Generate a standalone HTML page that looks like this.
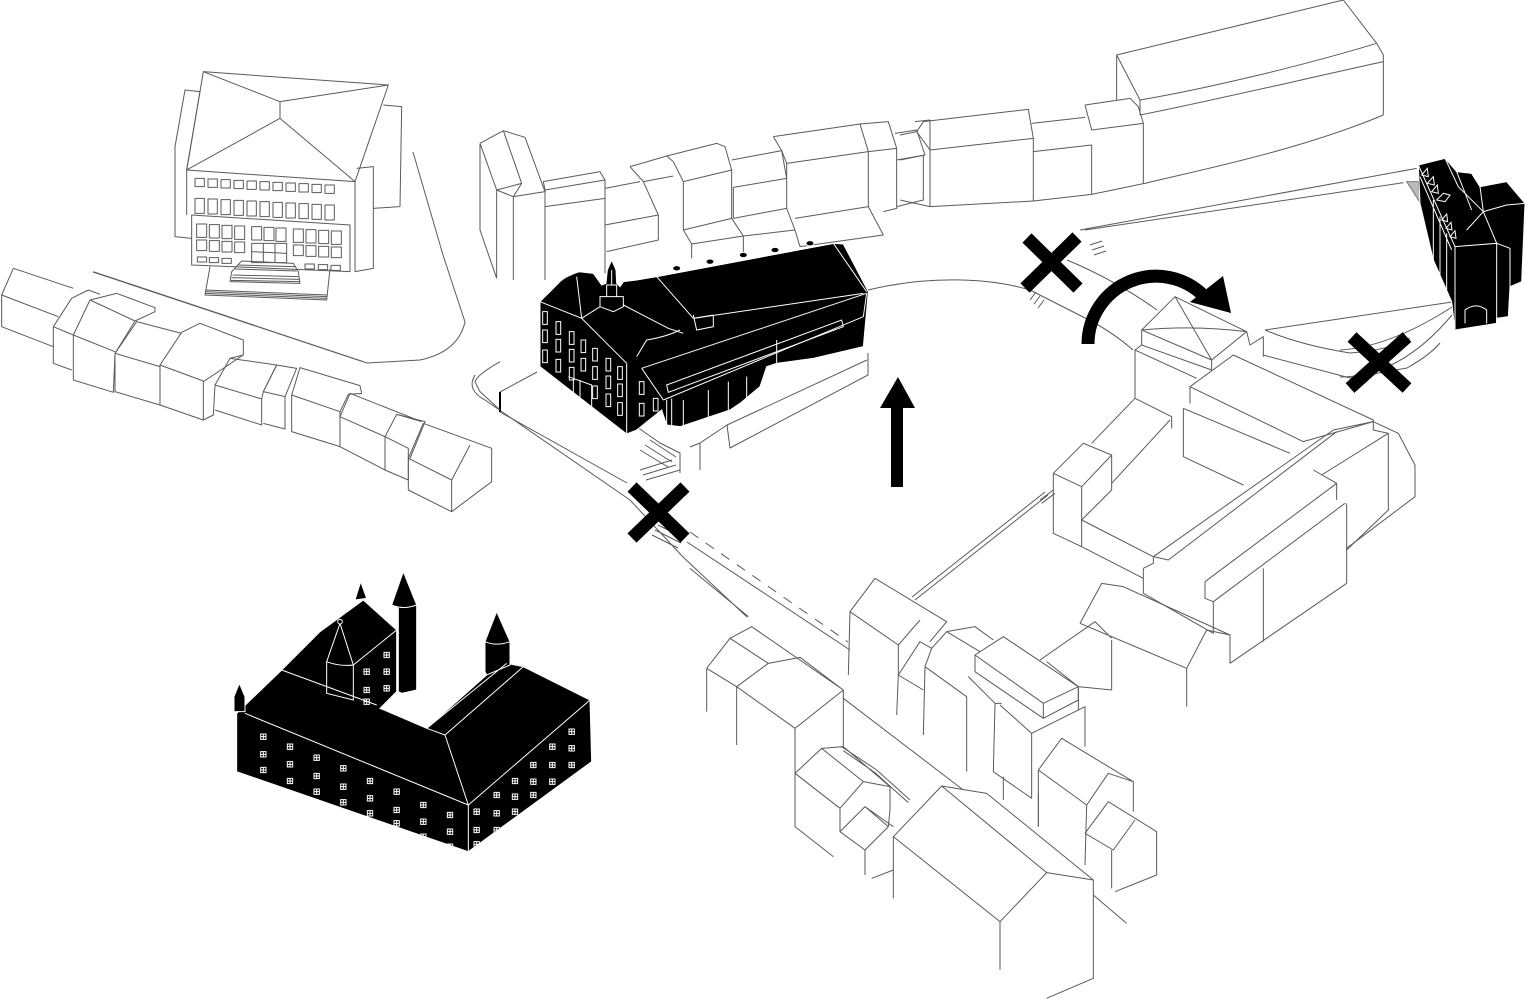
<!DOCTYPE html>
<html><head><meta charset="utf-8"><style>
html,body{margin:0;padding:0;background:#fff;}
svg{display:block;}
svg *{vector-effect:non-scaling-stroke;}
.l{fill:none;stroke:#5a5a5a;stroke-width:1;stroke-linejoin:round;}
.k{fill:#000;stroke:#fff;stroke-width:1;}
.w{fill:none;stroke:#fff;stroke-width:1;}
</style></head><body>
<svg width="1527" height="1000" viewBox="0 0 1527 1000" xmlns="http://www.w3.org/2000/svg">
<defs>
<g id="cw"><rect x="-8" y="-8" width="16" height="16" fill="none" stroke="#fff" stroke-width="1"/><path d="M0,-8V8M-8,0H8" stroke="#fff" stroke-width="1"/></g>
</defs>
<rect width="1527" height="1000" fill="#fff"/>

<!-- roads main coords -->
<g class="l">
<path d="M413,152 L443,255 L465,322 Q458,352 420,360 L367,363 L93,272"/>
<path d="M475,375 Q466,390 485,400 L630,500 L683,557 L747,617"/>
<path d="M500,392 L537,372"/>
<path d="M500,392 L500,412" stroke="#000" stroke-width="2"/>
<path d="M500,412 L627,483"/>
<path d="M687,542 L850,650"/>
<path d="M690,532 L848,642" stroke-dasharray="10,9"/>
<path d="M637,427 L660,443 L680,453 L680,473 M690,447 L700,443 L727,425 L730,448 L868,375 L868,353 M700,443 L700,470 M727,425 L867,360"/>
<path d="M640,450 L668,467 M645,445 L672,462 M650,440 L676,457"/>
<path d="M640,470 L672,460 M643,475 L676,465 M646,480 L680,470"/>
<path d="M652,535 L678,548 M655,530 L681,543 M658,525 L684,538"/>
<path d="M868,290 C930,275 990,278 1030,290 L1083,317 Q1110,330 1133,350"/>
<path d="M1067,260 Q1115,280 1157,310"/>
<path d="M1090,245 L1102,241 M1092,250 L1104,246 M1094,255 L1106,251"/>
<path d="M1030,300 L1036,292 M1034,304 L1040,296 M1038,308 L1044,300"/>
<path d="M912,597 L1045,492 M915,600 L1048,495"/>
<path d="M1265,330 L1452,302"/>
<path d="M1265,330 Q1300,345 1350,353 Q1390,350 1410,338"/>
<path d="M1263,355 L1350,378 L1407,368 Q1430,355 1440,343"/>
<path d="M1340,350 Q1390,347 1452,307 M1340,377 Q1400,377 1452,315"/>
</g>

<!-- left row of houses (zoom 9) -->
<g class="l" transform="translate(0,255) scale(0.33333)">
<path d="M40,40 L220,100 M40,40 L5,120 L5,215 L160,275 M5,120 L175,185"/>
<path d="M160,215 L215,130 L265,105 L300,118 M160,215 L160,325 L215,345 M160,215 L220,240"/>
<path d="M220,240 L270,135 L350,115 L465,158 L465,170 L405,198 L345,295 M220,240 L345,290 M220,240 L220,375 L340,412 L345,295 M270,135 L405,198"/>
<path d="M345,295 L410,200 L545,235 M345,295 L480,335 M345,295 L345,412 M480,335 L480,450 M345,410 L480,450"/>
<path d="M480,330 L545,232 L600,205 L730,255 L730,300 L610,380 M480,330 L610,378 M480,330 L480,450 L610,495 L610,378"/>
<path d="M610,495 L640,480 L645,390 L690,310 L730,300 M645,390 L785,432 L785,510 L645,465 M690,310 L830,330 L790,410 L785,432"/>
<path d="M790,410 L830,330 L890,340 L855,425 L855,522 L790,505 M855,425 L790,410"/>
<path d="M875,420 L900,338 L1080,392 L1085,415 L1045,418 L1020,470 M875,420 L1020,470 L1020,575 L875,530 Z"/>
<path d="M1020,485 L1050,415 L1265,500 M1020,485 L1155,545 L1155,645 L1020,575 M1155,545 L1190,478 L1265,500"/>
<path d="M1155,545 L1225,580 L1225,675 L1155,645 M1190,478 L1275,500 L1230,610"/>
<path d="M1225,610 L1270,505 L1475,580 L1475,680 L1355,770 L1225,705 Z M1225,610 L1355,675 L1410,570 M1355,675 L1355,770"/>
<path d="M280,50 L1090,320"/>
<path d="M1500,320 Q1430,360 1425,380 L1440,410 L1500,465"/>
</g>

<!-- top-left civic building (zoom 4) -->
<g class="l" transform="translate(170,65) scale(0.33333)">
<path d="M100,20 L655,60 L555,350 L50,315 Z M100,20 L330,110 L655,60 M330,110 L330,160 M330,160 L50,315 M330,160 L555,350"/>
<path d="M50,315 L50,450 M555,350 L555,620"/>
<path d="M15,245 L45,75 L90,80 L50,315 M15,245 L15,515 L65,520"/>
<path d="M640,120 L695,125 L690,425 L610,430 M560,310 L610,305 L610,610 L555,620"/>
<path d="M65,450 L540,480 L540,620 L65,600 Z"/>
<g>
<rect x="75" y="340" width="28" height="25"/><rect x="114" y="342" width="28" height="25"/><rect x="153" y="344" width="28" height="25"/><rect x="192" y="346" width="28" height="25"/><rect x="231" y="348" width="28" height="25"/><rect x="270" y="350" width="28" height="25"/><rect x="309" y="352" width="28" height="25"/><rect x="348" y="354" width="28" height="25"/><rect x="387" y="356" width="28" height="25"/><rect x="426" y="358" width="28" height="25"/><rect x="465" y="360" width="28" height="25"/>
<rect x="75" y="400" width="28" height="45"/><rect x="114" y="402" width="28" height="45"/><rect x="153" y="404" width="28" height="45"/><rect x="192" y="406" width="28" height="45"/><rect x="231" y="408" width="28" height="45"/><rect x="270" y="410" width="28" height="45"/><rect x="309" y="412" width="28" height="45"/><rect x="348" y="414" width="28" height="45"/><rect x="387" y="416" width="28" height="45"/><rect x="426" y="418" width="28" height="45"/><rect x="465" y="420" width="28" height="45"/>
<rect x="80" y="477" width="30" height="40"/><rect x="118" y="479" width="30" height="40"/><rect x="156" y="481" width="30" height="40"/><rect x="194" y="483" width="30" height="40"/><rect x="245" y="485" width="30" height="40"/><rect x="282" y="487" width="30" height="40"/><rect x="318" y="489" width="30" height="40"/><rect x="370" y="492" width="30" height="40"/><rect x="408" y="494" width="30" height="40"/><rect x="446" y="496" width="30" height="40"/><rect x="484" y="498" width="30" height="40"/>
<rect x="80" y="525" width="30" height="32"/><rect x="118" y="527" width="30" height="32"/><rect x="156" y="529" width="30" height="32"/><rect x="194" y="531" width="30" height="32"/><rect x="245" y="535" width="105" height="58"/><path d="M245,560 L350,565 M280,535 L280,593 M315,537 L315,593"/><rect x="370" y="540" width="30" height="32"/><rect x="408" y="542" width="30" height="32"/><rect x="446" y="544" width="30" height="32"/><rect x="484" y="546" width="30" height="32"/>
<rect x="82" y="576" width="28" height="15"/><rect x="118" y="578" width="28" height="15"/><rect x="156" y="580" width="28" height="15"/><rect x="405" y="597" width="28" height="15"/><rect x="445" y="599" width="28" height="15"/><rect x="483" y="601" width="28" height="15"/>
</g>
<path d="M120,605 L105,690 L470,705 L480,612"/>
<path d="M105,680 L470,695 M105,685 L470,700 M106,675 L472,690"/>
<path d="M215,588 L370,595 L385,620 L390,655 L180,650 L185,620 Z M188,630 L385,635 M185,638 L388,643 M183,646 L390,650 M195,612 L380,618 M205,600 L375,605"/>
</g>

<!-- top row buildings (zoom 6) -->
<g class="l" transform="translate(470,100) scale(0.33333)">
<path d="M30,130 L100,92 L165,112 L225,275 M30,130 L80,270 L130,290 L225,275 M100,92 L155,250 L130,290 M80,270 L155,250 M30,130 L30,390 L80,535 M80,270 L80,535 M130,290 L130,540"/>
<path d="M220,245 L390,215 L405,240 L225,270 Z M225,270 L225,320 L405,295 M225,320 L225,540 M405,240 L405,520"/>
<path d="M405,265 L510,245 M480,200 L520,245 L565,345 L565,420 L410,455 M405,375 L565,345 M480,200 L590,168 L610,185 M520,245 L610,228"/>
<path d="M590,168 L740,130 L765,140 L785,210 L640,245 L610,185 M640,245 L640,390 M785,210 L785,355 M640,390 L785,355 M640,390 L665,432 L820,408 L785,355 M665,432 L665,475 M820,408 L820,460"/>
<path d="M785,180 L935,152 L950,235 L790,262 M950,235 L950,325 L975,390 L820,408 M790,355 L950,325 M790,262 L790,355"/>
<path d="M910,110 L1170,72 L1195,155 L950,190 L935,152 M910,110 L935,152 M950,190 L950,235 M975,355 L1195,320 L1240,405 L990,440 L975,390 M1195,155 L1195,320"/>
<path d="M1170,72 L1255,65 L1280,145 L1195,155 M1280,145 L1280,325 L1240,335"/>
<path d="M1275,100 L1340,90 L1365,165 L1280,180 M1335,65 L1380,60 L1380,320 M1360,165 L1360,300 L1280,320"/>
</g>

<!-- top right row (zoom 10) -->
<g class="l" transform="translate(900,0) scale(0.33333)">
<path d="M0,405 L50,395 L70,365 L385,328 L400,415 L90,450 L50,395 M0,480 L75,465 M90,450 L90,620 M0,600 L90,620 L400,603 L575,583 L735,550 C900,510 1200,450 1450,345 M400,415 L400,603 M395,370 L555,352 M400,455 L575,435 L575,583"/>
<path d="M555,315 L690,295 L715,320 L730,370 L575,390 L555,315 M730,370 L730,550"/>
<path d="M650,300 L650,165 L1330,0 M1330,0 L1430,130 M650,165 L720,300 C900,270 1200,200 1430,130 L1450,165 L1450,345 M720,345 C900,310 1200,240 1450,185 M720,300 L720,345"/>
<path d="M540,690 L1550,505 M555,690 L1510,548"/>
</g>

<!-- right black building (zoom 3) -->
<g transform="translate(1340,150) scale(0.33333)">
<path d="M200,95 L235,95 L242,160 Z" fill="#bbb" stroke="#777"/>
<path class="k" d="M235,45 L315,25 L350,65 L395,70 L420,110 L500,95 L555,160 L545,395 L510,410 L505,500 L470,505 L470,520 L345,540 L335,455 L280,330 L240,160 Z"/>
<path class="w" d="M345,290 L470,280 L470,520 M345,290 L345,540 M380,240 L430,185 L470,280 M430,185 L355,110 L315,25 M430,185 L500,165 L555,160 M470,280 L510,295 L510,410 M375,520 L375,480 Q408,455 440,480 L440,520 M235,45 L345,290 M240,80 L335,300 M280,150 L280,330 M300,200 L300,380 M320,250 L320,420 M350,65 L395,180 M395,70 L420,110 L430,185"/>
<path class="w" d="M245,75 L262,55 L265,80 Z M262,100 L280,80 L283,105 Z M275,125 L292,105 L295,130 Z M290,150 L310,130 L330,135 L315,155 Z M305,210 L320,192 L323,215 Z M318,235 L333,217 L336,240 Z M330,260 L345,242 L348,265 Z"/>
</g>

<!-- center black building (zoom 1) -->
<g transform="translate(480,230) scale(0.33333)">
<path class="k" d="M180,215 L215,180 L250,145 L295,125 L340,130 L365,165 L378,160 L382,120 L395,90 L408,120 L410,160 L420,170 L430,155 L470,150 L530,140 L1060,40 L1090,42 L1165,185 L1150,350 L1000,385 L890,400 L860,410 L840,470 L780,520 L750,540 L600,590 L560,585 L545,540 L470,600 L440,612 L180,410 Z"/>
<path class="w" d="M440,400 L440,612 M180,215 L305,265 L440,400 M305,265 L360,230 M290,140 L305,265 M210,185 Q250,135 300,125 M360,200 L430,200 L430,230 L400,245 L360,230 Z M380,200 L380,165 L410,165 L410,200 M395,165 L395,120"/>
<path class="w" d="M430,225 L565,295 L610,310 M530,140 L640,265 M640,265 L700,255 M530,140 L1060,40 M1060,40 L1160,185"/>
<path class="w" d="M485,415 L1160,190 M485,415 L550,510 M550,510 L1150,260 M1150,260 L1160,190 M640,265 L1150,190"/>
<path class="w" d="M560,465 L1085,270 L1090,290 L565,487 Z"/>
<path class="w" d="M610,510 L610,590 M685,480 L685,565 M745,455 L745,545 M800,440 L800,520 M890,330 L890,400 M560,510 L560,610 M575,505 L575,615 M915,400 L915,430 M1000,390 L1000,410 M600,300 Q560,320 500,330 L470,380 M640,255 L650,300 L700,290 L700,255"/>
<g class="w">
<rect x="188" y="245" width="14" height="38"/><rect x="188" y="300" width="14" height="38"/><rect x="188" y="360" width="14" height="38"/>
<rect x="228" y="275" width="14" height="38"/><rect x="228" y="328" width="14" height="38"/><rect x="228" y="388" width="14" height="38"/>
<rect x="268" y="305" width="14" height="38"/><rect x="268" y="358" width="14" height="38"/><rect x="268" y="412" width="14" height="38"/>
<rect x="303" y="330" width="14" height="38"/><rect x="303" y="385" width="14" height="38"/>
<rect x="338" y="355" width="14" height="38"/><rect x="338" y="410" width="14" height="38"/><rect x="338" y="468" width="14" height="38"/>
<rect x="378" y="385" width="14" height="38"/><rect x="378" y="438" width="14" height="38"/><rect x="378" y="492" width="14" height="38"/>
<rect x="413" y="410" width="14" height="38"/><rect x="413" y="462" width="14" height="38"/><rect x="413" y="518" width="14" height="38"/>
<rect x="478" y="520" width="14" height="38"/><rect x="520" y="505" width="14" height="38"/><rect x="478" y="455" width="14" height="38"/>
<path d="M265,440 L335,465 L335,540 M280,445 L280,520 M300,450 L300,520"/>
</g>
<g class="k"><ellipse cx="590" cy="115" rx="12" ry="8"/><ellipse cx="690" cy="95" rx="12" ry="8"/><ellipse cx="790" cy="75" rx="12" ry="8"/><ellipse cx="885" cy="60" rx="12" ry="8"/><ellipse cx="990" cy="40" rx="12" ry="8"/></g>
</g>

<!-- right block (zoom 8) -->
<g class="l" transform="translate(1040,290) scale(0.33333)">
<path d="M305,120 L405,20 L620,125 L515,210 Z M305,120 Q460,105 620,125 M405,20 L515,210 M305,120 L305,165 L515,240 L515,210 M620,125 L630,165 L670,140 L670,200"/>
<path d="M285,180 L305,165 M285,180 L285,325 L395,380 L395,415 M285,180 L470,265"/>
<path d="M450,290 L580,195 L1000,390 M450,290 L450,340 M430,355 L430,500 L610,585 M430,355 L750,490 M450,290 L790,455 L1000,395"/>
<path d="M340,800 L880,420 L1000,395 M340,800 L385,810 L890,425 M495,875 L890,580 M495,875 L495,925 L520,935 L915,640 M820,540 L890,580 L890,630 M1000,390 L1000,420 L1045,430 L1045,660 L920,780"/>
<path d="M1000,395 L1075,430 L1125,525 L1125,620 L920,775 M845,555 L1045,430 M920,640 L920,880"/>
<path d="M40,550 L130,460 L215,495 L215,600 L125,690 L125,770 M40,550 L125,590 L215,495 M125,590 L125,690 M40,550 L40,730 L125,770"/>
<path d="M125,690 L340,800 M155,460 L285,325 M215,580 L390,390 M125,770 L310,865"/>
<path d="M310,835 L310,910 L520,1030 L520,935 M670,1055 L670,835 M570,1120 L920,880 M310,835 L340,820 L340,800"/>
<path d="M120,1000 L185,880 L250,890 L570,1035 L570,1120 M120,1000 L440,1135 L500,1020 L570,1035 M440,1135 L440,1250 M215,1050 L215,1200 M0,1110 L165,995 L215,1045 M20,1115 L115,1190 L115,1260 M115,1190 L215,1200"/>
<path d="M0,630 L40,600 M5,640 L45,610"/>
</g>

<!-- bottom-center houses (zoom 7) -->
<g class="l" transform="translate(690,560) scale(0.33333)">
<path d="M0,25 L175,170 M460,415 L820,690 M1210,1005 L1310,1090"/>
<path d="M480,155 L555,55 L770,185 L720,245 M480,155 L625,255 L690,180 M480,155 L475,345 M625,255 L625,345 L620,465"/>
<path d="M625,345 L690,245 L725,265 L705,320 L700,525 M625,345 L700,390 M725,265 L770,215 L855,200 L910,240 M705,320 L830,410 L830,635 M770,215 L870,275"/>
<path d="M855,285 L940,230 L1165,380 L1060,430 Z M855,285 L855,335 L1060,475 L1060,430 M1165,380 L1165,420 L1060,475"/>
<path d="M835,350 L915,430 L910,635 L1025,715 L1025,520 L1185,440 L1185,560 M915,430 L935,430 M1025,520 L930,435 M940,650 L940,720 M1045,700 L1045,800"/>
<path d="M1045,630 L1115,535 L1330,665 L1330,755 M1045,630 L1190,735 L1255,640 L1330,665 M1190,735 L1185,915 M1045,630 L1045,800"/>
<path d="M1185,820 L1255,725 L1400,815 L1400,945 L1275,995 M1185,820 L1270,870 L1335,780 M1265,870 L1265,985"/>
<path d="M50,325 L120,235 L185,200 L460,390 M50,325 L140,380 L235,310 L330,292 L460,390 L315,505 L140,380 M120,235 L235,310 M50,325 L50,455 M140,380 L140,555 M315,505 L315,800 L430,890 M460,390 L460,560"/>
<path d="M315,640 L395,565 L460,560 L600,680 L600,750 M315,640 L450,745 L520,665 L600,680 M395,565 L520,665 M450,745 L450,815 L525,870 L595,800 L600,750 M450,815 L525,740 L595,800 M525,870 L525,945 M525,740 L610,800 M455,560 L560,630 L660,720 M460,572 L555,638 L655,728"/>
<path d="M610,830 L755,678 L890,700 L1210,960 L1070,938 L930,1085 Z M610,830 L930,1085 M755,678 L1070,938 M610,830 L610,1015 M930,1085 L930,1230 M1210,960 L1210,1255 L1070,1315 M545,955 L610,930"/>
</g>

<!-- castle (zoom 2) -->
<g transform="translate(220,565) scale(0.33333)">
<path class="k" d="M50,445 L185,315 L300,200 L430,105 L530,195 L530,380 L480,430 L620,490 L800,330 L860,295 L910,305 L1110,405 L1115,590 L745,860 L50,620 Z"/>
<path class="k" d="M515,120 L550,20 L590,120 L590,375 L545,385 L535,380 L535,130 Z"/>
<path class="k" d="M405,105 L422,50 L440,100 Z"/>
<path class="k" d="M795,230 L830,140 L870,230 L870,300 L800,330 L795,320 Z"/>
<path class="k" d="M42,440 L42,395 L58,355 L75,395 L75,440 Z"/>
<path class="k" d="M320,290 L360,175 L400,300 L400,405 L320,385 Z"/>
<path class="w" d="M75,445 L745,720 M745,720 L745,860 M745,720 L1110,405 M675,510 L745,720 M675,510 L910,305 M185,315 L470,420 M620,490 L675,510 M620,490 L860,295 M400,300 L530,195 M515,120 Q550,135 590,120 M795,230 Q830,245 870,230 M320,290 Q360,305 400,300"/>
<circle cx="360" cy="170" r="7" fill="#000" stroke="#fff"/>
<g>
<use href="#cw" x="130" y="515"/><use href="#cw" x="130" y="568"/><use href="#cw" x="130" y="615"/>
<use href="#cw" x="210" y="545"/><use href="#cw" x="210" y="598"/><use href="#cw" x="210" y="648"/>
<use href="#cw" x="290" y="578"/><use href="#cw" x="290" y="633"/><use href="#cw" x="290" y="680"/>
<use href="#cw" x="370" y="610"/><use href="#cw" x="370" y="665"/><use href="#cw" x="370" y="712"/>
<use href="#cw" x="450" y="648"/><use href="#cw" x="450" y="700"/><use href="#cw" x="450" y="745"/>
<use href="#cw" x="530" y="680"/><use href="#cw" x="530" y="735"/><use href="#cw" x="530" y="775"/>
<use href="#cw" x="610" y="720"/><use href="#cw" x="610" y="770"/><use href="#cw" x="610" y="815"/>
<use href="#cw" x="690" y="750"/><use href="#cw" x="690" y="800"/><use href="#cw" x="690" y="845"/>
<use href="#cw" x="770" y="740"/><use href="#cw" x="770" y="795"/><use href="#cw" x="770" y="838"/>
<use href="#cw" x="830" y="690"/><use href="#cw" x="830" y="745"/><use href="#cw" x="830" y="795"/>
<use href="#cw" x="885" y="648"/><use href="#cw" x="885" y="695"/><use href="#cw" x="885" y="740"/>
<use href="#cw" x="940" y="600"/><use href="#cw" x="940" y="650"/><use href="#cw" x="940" y="690"/>
<use href="#cw" x="997" y="545"/><use href="#cw" x="997" y="600"/><use href="#cw" x="997" y="650"/>
<use href="#cw" x="1055" y="500"/><use href="#cw" x="1055" y="550"/><use href="#cw" x="1055" y="600"/>
<use href="#cw" x="440" y="320"/><use href="#cw" x="440" y="375"/><use href="#cw" x="440" y="410"/>
<use href="#cw" x="500" y="270"/><use href="#cw" x="500" y="320"/><use href="#cw" x="500" y="370"/>
</g>
</g>

<!-- X marks and arrows -->
<g stroke="#000" stroke-width="13" fill="none">
<path d="M1027,238 L1078,288 M1077,237 L1025,288"/>
<path d="M1352,337 L1407,388 M1407,337 L1350,388"/>
<path d="M632,487 L685,538 M685,487 L632,538"/>
<path d="M1088,344 A68,68 0 0 1 1204,296"/>
</g>
<polygon points="1190,302 1223,276 1231,313" fill="#000"/>
<rect x="891" y="405" width="12" height="82" fill="#000"/>
<polygon points="880,408 898,377 915,408" fill="#000"/>
</svg>
</body></html>
